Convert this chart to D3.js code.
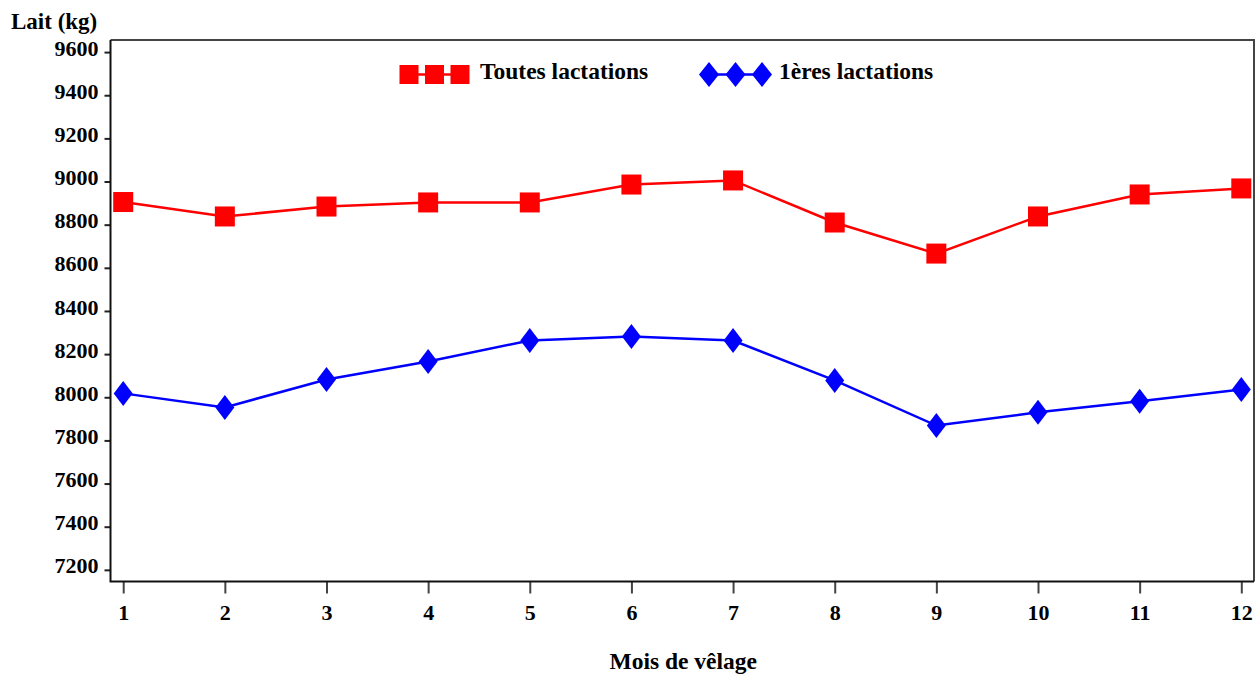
<!DOCTYPE html>
<html>
<head>
<meta charset="utf-8">
<script src="https://cdn.jsdelivr.net/npm/d3@7"></script>
<style>
  html, body { margin: 0; padding: 0; background: #fff; }
  svg { display: block; }
  text { font-family: "Liberation Serif", "Times New Roman", serif; font-weight: bold; fill: #000; }
</style>
</head>
<body>
<svg id="chart" width="1257" height="675"></svg>
<script>
const months = [1, 2, 3, 4, 5, 6, 7, 8, 9, 10, 11, 12];
const toutesLactations = [8905, 8838, 8884, 8903, 8903, 8986, 9005, 8810, 8666, 8838, 8940, 8968];
const premieresLactations = [8018, 7953, 8082, 8166, 8263, 8282, 8263, 8078, 7869, 7930, 7981, 8036];
const yTicks = [7200, 7400, 7600, 7800, 8000, 8200, 8400, 8600, 8800, 9000, 9200, 9400, 9600];
const xTicks = months;
const seriesNames = ["Toutes lactations", "1ères lactations"];
const yTitle = "Lait (kg)";
const xTitle = "Mois de vêlage";

(function () {
const svg = d3.select("#chart");
const pL = 110.5, pR = 1254, pT = 40, pB = 581.5;

const x = d3.scaleLinear().domain([0.875, 12.125]).range([pL, pR]);
const y = d3.scaleLinear().domain([7146, 9656]).range([pB, pT]);

// Frame: top and right grey
svg.append("path")
  .attr("d", `M${pL},${pT}H${pR}V${pB}`)
  .attr("fill", "none").attr("stroke", "#444").attr("stroke-width", 2);

// Y axis
const yAxis = svg.append("g")
  .attr("transform", `translate(${pL},0)`)
  .call(d3.axisLeft(y).tickValues(yTicks).tickSize(6).tickPadding(6).tickFormat(d3.format("d")));
yAxis.select(".domain").remove();
yAxis.selectAll(".tick line").attr("stroke", "#222").attr("stroke-width", 2);
yAxis.selectAll(".tick text")
  .attr("dy", "0.14em")
  .style("font-family", "'Liberation Serif', serif")
  .style("font-weight", "bold").style("font-size", "22px").attr("fill", "#000");

// X axis
const xAxis = svg.append("g")
  .attr("transform", `translate(0,${pB})`)
  .call(d3.axisBottom(x).tickValues(xTicks).tickSize(12).tickPadding(11).tickFormat(d3.format("d")));
xAxis.select(".domain").remove();
xAxis.selectAll(".tick line").attr("stroke", "#444").attr("stroke-width", 2);
xAxis.selectAll(".tick text")
  .style("font-family", "'Liberation Serif', serif")
  .style("font-weight", "bold").style("font-size", "22px").attr("fill", "#000");

// Left and bottom axis lines (black)
svg.append("path")
  .attr("d", `M${pL},${pT}V${pB}H${pR}`)
  .attr("fill", "none").attr("stroke", "#111").attr("stroke-width", 2);

// Titles
svg.append("text").attr("x", 11).attr("y", 28.5)
  .style("font-size", "23px").text(yTitle);
svg.append("text").attr("x", (pL + pR) / 2 + 1).attr("y", 669)
  .attr("text-anchor", "middle").style("font-size", "23.5px").text(xTitle);

// Series
const line = d3.line().x((d, i) => x(months[i])).y(d => y(d));

function square(g, cx, cy, s, color) {
  g.append("rect").attr("x", cx - s / 2).attr("y", cy - s / 2)
    .attr("width", s).attr("height", s).attr("fill", color);
}
function diamond(g, cx, cy, w, h, color) {
  g.append("path")
    .attr("d", `M${cx},${cy - h / 2}L${cx + w / 2},${cy}L${cx},${cy + h / 2}L${cx - w / 2},${cy}Z`)
    .attr("fill", color);
}

const red = "#ff0000", blue = "#0000ff";

const gRed = svg.append("g");
gRed.append("path").datum(toutesLactations).attr("d", line)
  .attr("fill", "none").attr("stroke", red).attr("stroke-width", 2.5);
toutesLactations.forEach((v, i) => square(gRed, x(months[i]), y(v), 20, red));

const gBlue = svg.append("g");
gBlue.append("path").datum(premieresLactations).attr("d", line)
  .attr("fill", "none").attr("stroke", blue).attr("stroke-width", 2.5);
premieresLactations.forEach((v, i) => diamond(gBlue, x(months[i]), y(v), 19, 25, blue));

// Legend
const lg = svg.append("g");
const ly = 74.5;
lg.append("line").attr("x1", 409).attr("x2", 460).attr("y1", ly).attr("y2", ly)
  .attr("stroke", red).attr("stroke-width", 2.5);
[409, 434.5, 460].forEach(cx => square(lg, cx, ly, 19, red));
lg.append("text").attr("x", 480).attr("y", 79).style("font-size", "23.5px").text(seriesNames[0]);

lg.append("line").attr("x1", 709).attr("x2", 762).attr("y1", ly).attr("y2", ly)
  .attr("stroke", blue).attr("stroke-width", 2.5);
[709, 735.5, 762].forEach(cx => diamond(lg, cx, ly, 20, 25, blue));
lg.append("text").attr("x", 779).attr("y", 79).style("font-size", "23.5px").text(seriesNames[1]);
})();
</script>
</body>
</html>
